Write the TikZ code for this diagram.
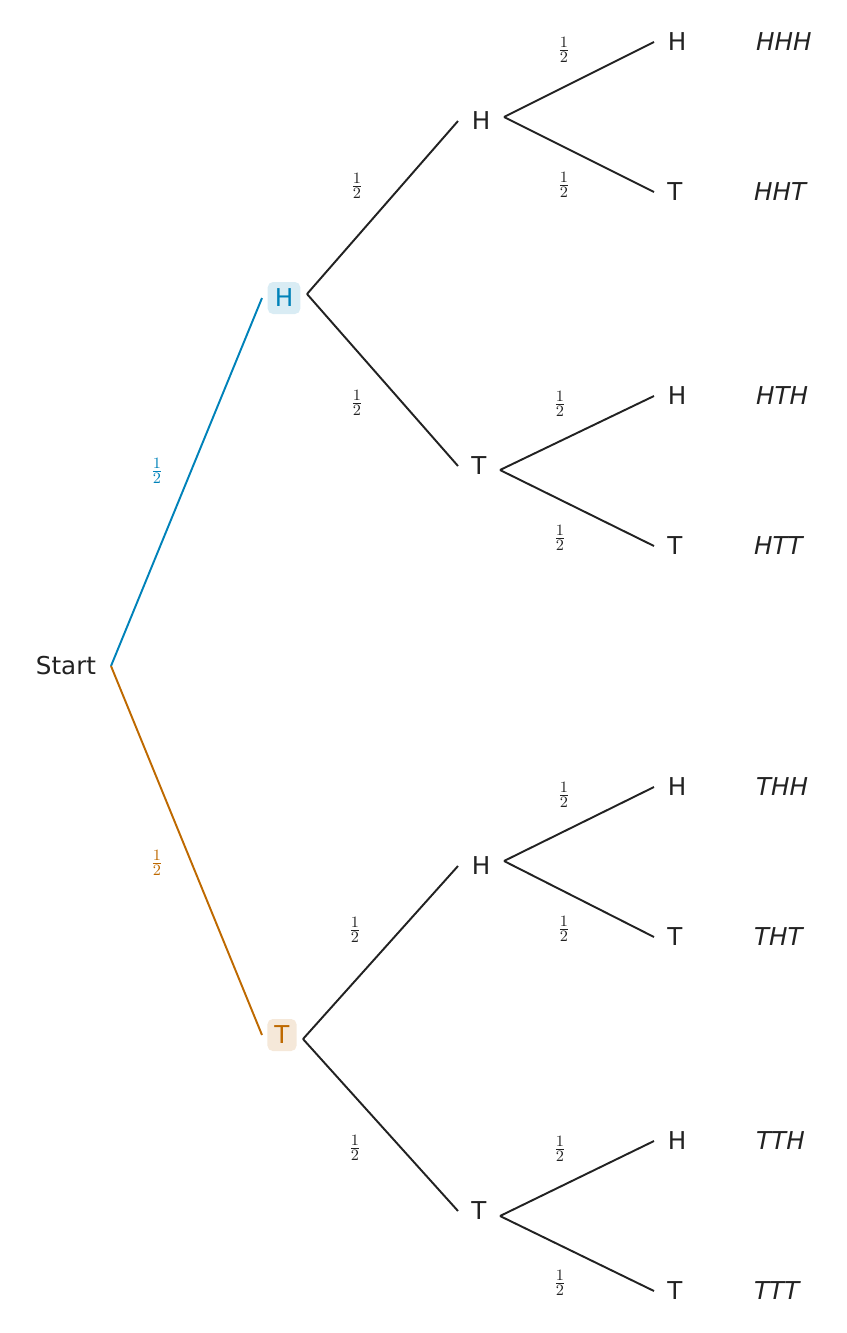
\documentclass[tikz,border=0pt]{standalone}
\usepackage{fontspec}
\setmainfont{DejaVu Sans}
\usetikzlibrary{positioning}
\definecolor{hblue}{RGB}{0,130,185}
\definecolor{horange}{RGB}{190,105,0}
\definecolor{hink}{RGB}{34,34,34}
\begin{document}
\begin{tikzpicture}[x=0.02cm,y=-0.02cm,
    lbl/.style={font=\fontsize{14}{16}\selectfont, text=hink},
    outc/.style={font=\fontsize{14}{16}\selectfont\itshape, text=hink},
    prob/.style={font=\fontsize{13}{15}\selectfont, text=hink},
    branch/.style={line width=1.1pt, draw=hink},
    hbox/.style={rounded corners=3pt, inner sep=4pt, font=\fontsize{14}{16}\selectfont}
]
\useasboundingbox (0,0) rectangle (846,1333);

% Root and first level
\node[lbl] (start) at (66,666) {Start};
\coordinate (s) at (111,666);
\node[hbox, fill=hblue!15, text=hblue] (H) at (284,298) {H};
\node[hbox, fill=horange!15, text=horange] (T) at (282,1035) {T};
\coordinate (Hin) at (262,298);
\coordinate (Hout) at (307,294);
\coordinate (Tin) at (262,1035);
\coordinate (Tout) at (303,1039);
\draw[line width=1.1pt, hblue] (s) -- (Hin);
\draw[line width=1.1pt, horange] (s) -- (Tin);
\node[prob, text=hblue] at (157,471) {$\frac{1}{2}$};
\node[prob, text=horange] at (157,863) {$\frac{1}{2}$};

% Second level
\node[lbl] (HH) at (481,121) {H};
\node[lbl] (HT) at (479,466) {T};
\node[lbl] (TH) at (481,866) {H};
\node[lbl] (TT) at (479,1211) {T};
\coordinate (HHin) at (458,121);
\coordinate (HTin) at (458,466);
\coordinate (THin) at (458,866);
\coordinate (TTin) at (458,1211);
\draw[branch] (Hin -| Hout) (Hout) -- (HHin);
\draw[branch] (Hout) -- (HTin);
\draw[branch] (Tout) -- (THin);
\draw[branch] (Tout) -- (TTin);
\node[prob] at (357,186) {$\frac{1}{2}$};
\node[prob] at (357,403) {$\frac{1}{2}$};
\node[prob] at (355,930) {$\frac{1}{2}$};
\node[prob] at (355,1148) {$\frac{1}{2}$};

% Third level and outcomes
\foreach \name/\fx/\fy/\ty/\pa/\pb/\oa/\ob in {
    HH/504/117/42/50/185/HHH/HHT,
    HT/500/470/396/404/538/HTH/HTT,
    TH/504/861/787/795/929/THH/THT,
    TT/500/1216/1141/1149/1283/TTH/TTT}{
  \coordinate (\name f) at (\fx,\fy);
  \pgfmathsetmacro{\tyb}{\ty+150}
  \node[lbl] (\name H) at (677,\ty) {H};
  \node[lbl] (\name T) at (675,\tyb) {T};
  \coordinate (\name Hin) at (654,\ty);
  \coordinate (\name Tin) at (654,\tyb);
  \draw[branch] (\name f) -- (\name Hin);
  \draw[branch] (\name f) -- (\name Tin);
  \node[prob] at (\fx+60,\pa) {$\frac{1}{2}$};
  \node[prob] at (\fx+60,\pb) {$\frac{1}{2}$};
  \node[outc, anchor=west] at (750,\ty) {\oa};
  \node[outc, anchor=west] at (748,\tyb) {\ob};
}
\end{tikzpicture}
\end{document}
